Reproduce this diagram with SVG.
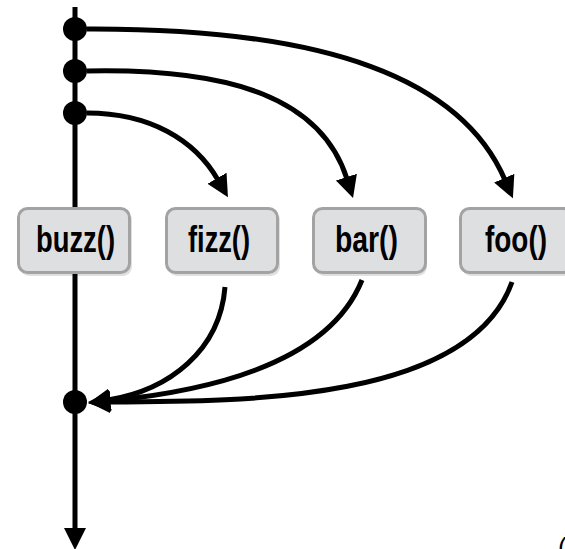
<svg xmlns="http://www.w3.org/2000/svg" width="565" height="549" viewBox="0 0 565 549">
<style>
.ln{fill:none;stroke:#000;stroke-width:5}
.box{fill:#dedfe0;stroke:#a3a3a3;stroke-width:3}
.sh{fill:#000;opacity:0.12}
.lbl{font-family:"Liberation Sans Narrow","Liberation Sans",Arial,sans-serif;font-weight:bold;font-size:36px;fill:#000;text-anchor:middle}
</style>
<defs>
<marker id="ah" markerUnits="userSpaceOnUse" markerWidth="24" markerHeight="24" viewBox="0 -12 24 24" refX="2" refY="0" orient="auto">
<path d="M0,-11 L22,0 L0,11 z" fill="#000"/>
</marker>
</defs>
<g id="timeline">
<path class="ln" d="M75 7 V530" marker-end="url(#ah)"/>
<circle cx="75" cy="29" r="12"/>
<circle cx="75" cy="71" r="12"/>
<circle cx="75" cy="113" r="12"/>
<circle cx="75" cy="402" r="12"/>
</g>
<g id="connectors">
<path class="ln" d="M87 29 C330 28 462 80 505 180" marker-end="url(#ah)"/>
<path class="ln" d="M87 71 C235 68 322 100 347 179" marker-end="url(#ah)"/>
<path class="ln" d="M87 113 C150 113 195 140 218 180" marker-end="url(#ah)"/>
<path class="ln" d="M225 287 C220 350 170 390 108 400" marker-end="url(#ah)"/>
<path class="ln" d="M362 280 C330 360 220 390 108 401" marker-end="url(#ah)"/>
<path class="ln" d="M512 282 C470 400 250 402 108 402" marker-end="url(#ah)"/>
</g>
<g id="buzz">
<rect class="sh" x="20" y="211" width="112" height="65" rx="9"/>
<rect class="box" x="18.5" y="208.5" width="111" height="64" rx="9"/>
<text class="lbl" x="75.5" y="252" textLength="79" lengthAdjust="spacingAndGlyphs">buzz()</text>
</g>
<g id="fizz">
<rect class="sh" x="168" y="211" width="112" height="65" rx="9"/>
<rect class="box" x="166.5" y="208.5" width="111" height="64" rx="9"/>
<text class="lbl" x="219" y="252" textLength="62" lengthAdjust="spacingAndGlyphs">fizz()</text>
</g>
<g id="bar">
<rect class="sh" x="315" y="211" width="112" height="65" rx="9"/>
<rect class="box" x="313.5" y="208.5" width="112" height="64" rx="9"/>
<text class="lbl" x="366.5" y="252" textLength="63" lengthAdjust="spacingAndGlyphs">bar()</text>
</g>
<g id="foo">
<rect class="sh" x="462" y="211" width="112" height="65" rx="9"/>
<rect class="box" x="460.5" y="208.5" width="112" height="64" rx="9"/>
<text class="lbl" x="516" y="252" textLength="62" lengthAdjust="spacingAndGlyphs">foo()</text>
</g>
<text x="558" y="556" font-family="Liberation Sans,Arial,sans-serif" font-size="26" fill="#000">(</text>
</svg>
